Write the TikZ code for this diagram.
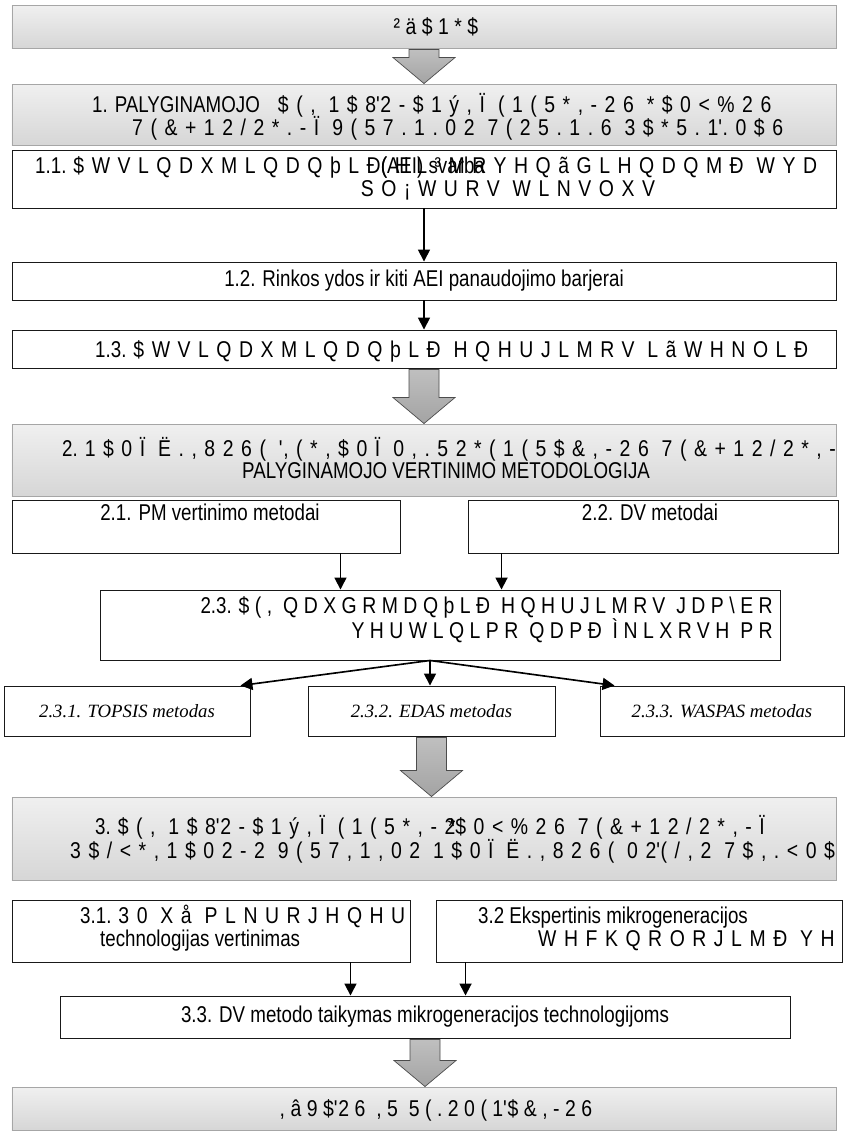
\documentclass[tikz,border=0pt]{standalone}
\usepackage{fontspec}
\setmainfont{Liberation Sans}[FakeStretch=0.82]
\newfontfamily\garb{Liberation Sans}[FakeStretch=0.85,LetterSpace=33]
\newfontfamily\garbn{Liberation Sans}[FakeStretch=0.85,LetterSpace=24]
\newfontfamily\timesfont{Liberation Serif}
\usetikzlibrary{arrows.meta,calc}
\newcommand{\q}{\textquotesingle}
\tikzset{
  graybox/.style={draw=gray!70,top color=gray!12,bottom color=gray!32,inner sep=0pt,line width=0.8pt},
  whitebox/.style={draw=black!90,fill=white,inner sep=0pt,line width=0.8pt},
  boxtext/.style={inner sep=0pt},
  itbox/.style={whitebox,font=\timesfont\itshape\fontsize{16}{20}\selectfont},
  thinarrow/.style={-{Triangle[length=3.6mm,width=3.6mm]},line width=1.4pt},
  bigarrow/.style={draw=gray!60!black,top color=gray!50,bottom color=gray!72,line width=0.6pt}
}
% fat grey arrow between two stacked boxes
\newcommand{\fatarrow}[2]{%
  \path[bigarrow] ($(#1.south)+(-15,1)$) -- ($(#1.south |- #2.north)+(-15,-26)$)
    -- ($(#1.south |- #2.north)+(-31,-26)$) -- (#1.south |- #2.north)
    -- ($(#1.south |- #2.north)+(31,-26)$) -- ($(#1.south |- #2.north)+(15,-26)$)
    -- ($(#1.south)+(15,1)$) -- cycle;}

\begin{document}
\begin{tikzpicture}[x=0.03cm,y=-0.03cm,font=\fontsize{19.5}{24}\selectfont]
  \useasboundingbox (0,0) rectangle (846,1136);

  % part 1
  \node[graybox,minimum width=24.72cm,minimum height=1.29cm] (b0) at (424,26.5) {};
  \node[boxtext,anchor=base] (t0) at (436,34) {{\garbn ²ä\$1*\$}};
  \node[graybox,minimum width=24.72cm,minimum height=1.83cm] (b1) at (424,114.5) {};
  \node[boxtext,anchor=base west] (t1a) at (92,112) {1. PALYGINAMOJO {\garb\ \$(, 1\$8\q2-\$1ý,Ï (1(5*,-26 *\$0<\%26}};
  \node[boxtext,anchor=base west] (t1b) at (132,135) {{\garb 7(\&+12/2*.-Ï 9(57.1.02 7(25.1.6 3\$*5.1\q.0\$6}};
  \node[whitebox,minimum width=24.72cm,minimum height=1.74cm] (b11) at (424,179) {};
  \node[boxtext,anchor=base west] (t11a) at (35,173) {1.1. {\garb \$WVLQDXMLQDQþLÐ\rlap{\normalfont(AEI) svarba}(HL³MRYHQãGLHQDQMÐ WYD}};
  \node[boxtext,anchor=base] (t11b) at (508,196) {{\garb SO¡WURV WLNVOXV}};
  \node[whitebox,minimum width=24.72cm,minimum height=1.14cm] (b12) at (424,281) {1.2. Rinkos ydos ir kiti AEI panaudojimo barjerai};
  \node[whitebox,minimum width=24.72cm,minimum height=1.14cm] (b13) at (424,349) {};
  \node[boxtext,anchor=base west] (t13) at (95,357) {1.3. {\garb \$WVLQDXMLQDQþLÐ HQHUJLMRV LãWHNOLÐ}};
  \draw[thinarrow] (b11.south) -- (b12.north);
  \draw[thinarrow] (b12.south) -- (b13.north);

  % part 2
  \node[graybox,minimum width=24.72cm,minimum height=2.16cm] (b2) at (424,460) {};
  \begin{scope}
    \clip (b2.south west) rectangle (b2.north east);
    \node[boxtext,anchor=base west] (t2a) at (62,456) {2. {\garb 1\$0Ï Ë.,826( \q,(*,\$0Ï 0,.52*(1(5\$\&,-26 7(\&+12/2*,-Ï}};
  \end{scope}
  \node[boxtext,anchor=base] (t2b) at (446,478) {PALYGINAMOJO VERTINIMO METODOLOGIJA};
  \node[whitebox,minimum width=11.64cm,minimum height=1.59cm] (b21) at (206,526.5) {};
  \node[boxtext,anchor=base] (t21) at (210,520) {2.1. PM vertinimo metodai};
  \node[whitebox,minimum width=11.1cm,minimum height=1.59cm] (b22) at (653,526.5) {};
  \node[boxtext,anchor=base] (t22) at (650,520) {2.2. DV metodai};
  \node[whitebox,minimum width=20.4cm,minimum height=2.1cm] (b23) at (440,625) {};
  \node[boxtext,anchor=base east] (t23a) at (773,613) {2.3. {\garbn \$(, QDXGRMDQþLÐ HQHUJLMRV JDP\textbackslash ER}};
  \node[boxtext,anchor=base east] (t23b) at (773,638) {{\garbn YHUWLQLPR QDPÐ ÌNLXRVH PR}};
  \coordinate (a21) at ($(b21.south east)+(-60,0)$);
  \coordinate (a22) at ($(b22.south west)+(34,0)$);
  \draw[thinarrow] (a21) -- (a21 |- b23.north);
  \draw[thinarrow] (a22) -- (a22 |- b23.north);

  \node[itbox,minimum width=7.38cm,minimum height=1.5cm] (b231) at (127,711) {2.3.1. TOPSIS metodas};
  \node[itbox,minimum width=7.41cm,minimum height=1.5cm] (b232) at (431.5,711) {2.3.2. EDAS metodas};
  \node[itbox,minimum width=7.32cm,minimum height=1.5cm] (b233) at (722,711) {2.3.3. WASPAS metodas};
  \coordinate (fan) at ($(b23.south)+(-10,0)$);
  \draw[thinarrow] (fan) -- ($(b231.north east)+(-10,0)$);
  \draw[thinarrow] (fan) -- (fan |- b232.north);
  \draw[thinarrow] (fan) -- ($(b233.north west)+(15,0)$);

  % part 3
  \node[graybox,minimum width=24.72cm,minimum height=2.49cm] (b3) at (424,838.5) {};
  \begin{scope}
    \clip (b3.south west) rectangle (b3.north east);
    \node[boxtext,anchor=base west] (t3a) at (95,834) {3. {\garb \$(, 1\$8\q2-\$1ý,Ï (1(5*,-2\llap{*}\$0<\%26 7(\&+12/2*,-Ï}};
    \node[boxtext,anchor=base west] (t3b) at (70,858) {{\garb 3\$/<*,1\$02-2 9(57,1,02 1\$0Ï Ë.,826( 02\q(/,2 7\$,.<0\$6}};
  \end{scope}
  \node[whitebox,minimum width=11.94cm,minimum height=1.86cm] (b31) at (211,931) {};
  \begin{scope}
    \clip (b31.south west) rectangle (b31.north east);
    \node[boxtext,anchor=base west] (t31a) at (80,923) {3.1. {\garb 30 Xå PLNURJHQHUDFLMRV}};
  \end{scope}
  \node[boxtext,anchor=base west] (t31b) at (100,946) {technologijas vertinimas};
  \node[whitebox,minimum width=12.18cm,minimum height=1.86cm] (b32) at (639,931) {};
  \node[boxtext,anchor=base west] (t32a) at (478,923) {3.2 Ekspertinis mikrogeneracijos};
  \begin{scope}
    \clip (b32.south west) rectangle (b32.north east);
    \node[boxtext,anchor=base west] (t32b) at (538,946) {{\garb WHFKQRORJLMÐ YHUWLQLPDV}};
  \end{scope}
  \node[whitebox,minimum width=21.9cm,minimum height=1.26cm] (b33) at (425,1017) {3.3. DV metodo taikymas mikrogeneracijos technologijoms};
  \coordinate (a31) at ($(b31.south east)+(-60,0)$);
  \coordinate (a32) at ($(b32.south west)+(30,0)$);
  \draw[thinarrow] (a31) -- (a31 |- b33.north);
  \draw[thinarrow] (a32) -- (a32 |- b33.north);

  % conclusions
  \node[graybox,minimum width=24.72cm,minimum height=1.29cm] (bend) at (424,1108.5) {};
  \node[boxtext,anchor=base] (tend) at (436,1116) {{\garbn ,â9\$\q26 ,5 5(.20(1\q\$\&,-26}};

  \fatarrow{b0}{b1}
  \fatarrow{b13}{b2}
  \fatarrow{b232}{b3}
  \fatarrow{b33}{bend}
\end{tikzpicture}
\end{document}
